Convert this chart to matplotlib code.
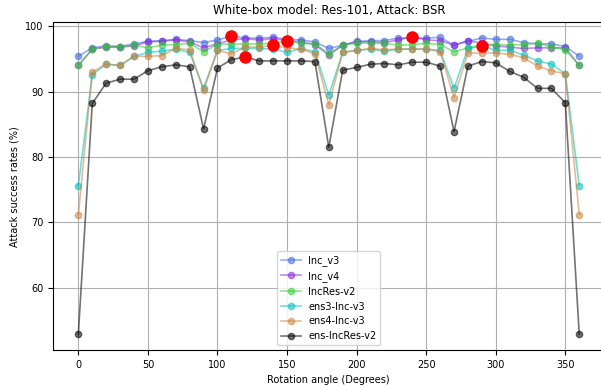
import matplotlib as mpl
mpl.use('Agg')

import matplotlib.pyplot as plt

angles = list(range(0, 361, 10))

inc_v3 = [95.4, 96.7, 97.0, 96.9, 97.3, 97.7, 97.8, 98.0, 97.8, 97.5, 97.9, 98.5, 98.2,
          98.2, 98.3, 98.0, 97.9, 97.6, 96.6, 97.1, 97.7, 97.8, 97.8, 98.2, 98.2, 98.2,
          98.3, 97.1, 97.7, 98.2, 98.0, 98.0, 97.5, 97.3, 97.3, 96.9, 95.4]
inc_v4 = [94.0, 96.5, 96.8, 96.8, 97.0, 97.6, 97.7, 97.9, 97.6, 96.7, 97.3, 97.9, 98.1,
          97.9, 98.1, 97.8, 97.6, 97.2, 95.6, 97.1, 97.6, 97.6, 97.5, 97.9, 98.4, 97.9,
          97.8, 97.1, 97.8, 97.4, 97.0, 96.8, 96.6, 96.7, 96.7, 96.7, 94.0]
incres_v2 = [94.0, 96.5, 96.9, 96.9, 97.1, 96.7, 97.1, 97.2, 97.4, 96.1, 97.2, 97.3, 97.3,
             97.3, 97.4, 97.7, 97.4, 97.3, 95.8, 97.1, 97.4, 97.4, 97.4, 97.1, 97.2, 97.4,
             97.2, 96.1, 96.7, 97.1, 97.2, 97.1, 97.2, 97.4, 96.8, 96.4, 94.0]
ens3_inc_v3 = [75.6, 92.6, 94.2, 94.0, 95.4, 96.0, 96.2, 96.5, 96.0, 90.5, 96.3, 96.6, 96.6,
               96.6, 96.5, 96.0, 96.6, 96.1, 89.5, 96.0, 96.3, 96.5, 96.2, 96.5, 96.5, 96.5,
               96.3, 90.5, 96.6, 97.0, 96.3, 96.3, 95.6, 94.7, 94.2, 92.7, 75.6]
ens4_inc_v3 = [71.2, 93.0, 94.2, 94.0, 95.4, 95.4, 95.5, 96.6, 96.4, 90.2, 96.3, 95.8, 96.8,
               96.8, 97.1, 96.7, 96.5, 95.8, 88.0, 96.0, 96.3, 96.6, 96.4, 96.5, 96.5, 96.5,
               96.1, 89.1, 95.9, 95.9, 95.9, 95.7, 95.2, 93.9, 93.2, 92.7, 71.2]
ens_incres_v2 = [52.9, 88.2, 91.3, 91.9, 91.9, 93.2, 93.8, 94.1, 93.8, 84.3, 93.6, 94.9, 95.3,
                 94.7, 94.7, 94.7, 94.7, 94.6, 81.5, 93.3, 93.7, 94.2, 94.3, 94.1, 94.5, 94.5,
                 93.9, 83.9, 93.9, 94.6, 94.4, 93.1, 92.2, 90.5, 90.5, 88.3, 52.9]

labels = ['Inc_v3', 'Inc_v4', 'IncRes-v2', 'ens3-Inc-v3', 'ens4-Inc-v3', 'ens-IncRes-v2']
series = [inc_v3, inc_v4, incres_v2, ens3_inc_v3, ens4_inc_v3, ens_incres_v2]
colors = ['royalblue', 'blueviolet', 'limegreen', 'c', 'peru', 'k']
# best angle for each model (red dots)
best_angles = [110, 240, 150, 290, 140, 120]

fig = plt.figure(figsize=[6.01, 3.85], dpi=100)
ax = fig.add_axes([53.3 / 601, 35 / 385, 551 / 601, 327.7 / 385])

for vals, lab, col in zip(series, labels, colors):
    ax.plot(angles, vals, '-o', color=col, alpha=0.55, lw=1.2, ms=4.5, label=lab)

for vals, a in zip(series, best_angles):
    ax.plot(a, vals[angles.index(a)], 'o', color='red', ms=8, zorder=5)

ax.set_xlim(-18, 378)
ax.set_ylim(50.5, 100.6)
ax.grid(True, color='#b0b0b0', lw=0.8)
ax.set_title('White-box model: Res-101, Attack: BSR', fontsize=8.5)
ax.set_xlabel('Rotation angle (Degrees)', fontsize=7)
ax.set_ylabel('Attack success rates (%)', fontsize=7)
ax.tick_params(labelsize=7)
ax.legend(loc='lower center', fontsize=7)

plt.savefig('out.png')
